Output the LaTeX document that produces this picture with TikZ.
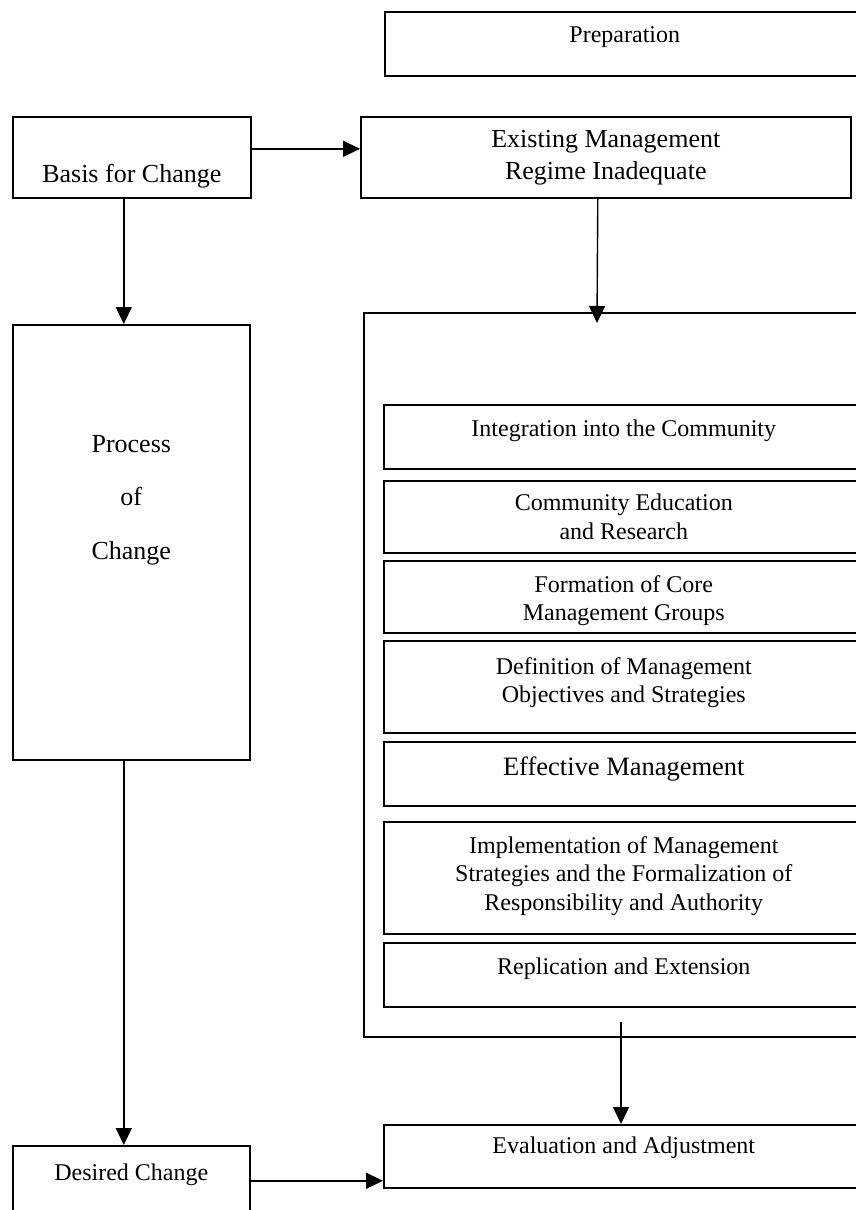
\documentclass[tikz,border=0pt]{standalone}
\usepackage{fontspec}
\setmainfont{Liberation Serif}
\usetikzlibrary{arrows.meta}

\tikzset{
  box/.style={draw=black, line width=1.6pt, inner sep=0pt, anchor=north west},
  txt/.style={anchor=north, inner sep=0pt, align=center, font=\fontsize{24}{28.5}\selectfont},
  big/.style={font=\fontsize{26}{32}\selectfont},
}

\begin{document}
\begin{tikzpicture}[x=1pt, y=-1pt, >={Triangle[length=17pt,width=16pt]}]
\useasboundingbox (0,0) rectangle (856,1210);
\clip (0,0) rectangle (856,1210);
% left column
\node[box, minimum width=238pt, minimum height=81pt, label={[txt, big, yshift=-48pt]north:Basis for Change}] (basis) at (12,116) {};
\node[box, minimum width=237pt, minimum height=435pt, label={[txt, yshift=-111pt, font=\fontsize{26}{53.5}\selectfont]north:Process\\of\\Change}] (proc) at (12,324) {};
\node[box, minimum width=237pt, minimum height=70pt, label={[txt, yshift=-19pt]north:Desired Change}] (desired) at (12,1145) {};
% right column
\node[box, minimum width=480pt, minimum height=64pt, label={[txt, yshift=-15pt]north:Preparation}] (prep) at (384,11) {};
\node[box, minimum width=490pt, minimum height=81pt, label={[txt, big, yshift=-14pt]north:Existing Management\\Regime Inadequate}] (exist) at (360,116) {};
\node[box, minimum width=520pt, minimum height=724pt] (steps) at (363,312) {};
\node[box, minimum width=480pt, minimum height=64pt, label={[txt, yshift=-16pt]north:Integration into the Community}] (integ) at (383,404) {};
\node[box, minimum width=480pt, minimum height=72pt, label={[txt, yshift=-14pt]north:Community Education\\and Research}] (edu) at (383,480) {};
\node[box, minimum width=480pt, minimum height=72pt, label={[txt, yshift=-15pt]north:Formation of Core\\Management Groups}] (core) at (383,560) {};
\node[box, minimum width=480pt, minimum height=92pt, label={[txt, yshift=-17pt]north:Definition of Management\\Objectives and Strategies}] (defn) at (383,640) {};
\node[box, minimum width=480pt, minimum height=64pt, label={[txt, yshift=-16pt, font=\fontsize{26.5}{32}\selectfont]north:Effective Management}] (effect) at (383,741) {};
\node[box, minimum width=480pt, minimum height=112pt, label={[txt, yshift=-15pt]north:Implementation of Management\\Strategies and the Formalization of\\Responsibility and Authority}] (impl) at (383,821) {};
\node[box, minimum width=480pt, minimum height=64pt, label={[txt, yshift=-16pt]north:Replication and Extension}] (repl) at (383,942) {};
\node[box, minimum width=480pt, minimum height=63pt, label={[txt, yshift=-13pt]north:Evaluation and Adjustment}] (eval) at (383,1124) {};
\coordinate (stepsin) at (597,323);
\coordinate (stepsout) at (621,1022);
% arrows
\path[->, line width=1.4pt] ([yshift=8.5pt]basis.east) edge ([yshift=8.5pt]exist.west);
\path[->, line width=1.4pt] ([xshift=-8pt]basis.south) edge ([xshift=-8pt]basis.south |- proc.north);
\path[->, line width=1.4pt] ([xshift=-8pt]exist.south) edge (stepsin);
\path[->, line width=1.4pt] ([xshift=-7.5pt]proc.south) edge ([xshift=-7.5pt]proc.south |- desired.north);
\path[->, line width=1.4pt] (stepsout) edge (stepsout |- eval.north);
\path[->, line width=1.4pt] (desired.east) edge (desired.east -| eval.west);
\end{tikzpicture}
\end{document}
